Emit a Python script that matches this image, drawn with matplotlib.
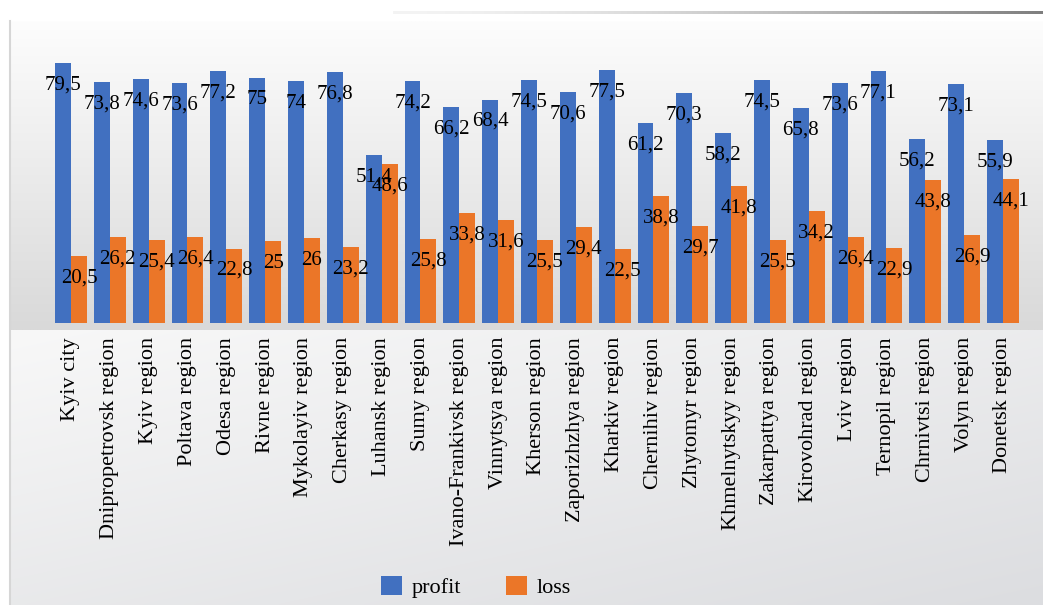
import numpy as np
import matplotlib
matplotlib.use("Agg")
import matplotlib.pyplot as plt
from matplotlib.colors import to_rgb
from matplotlib.patches import Patch
from matplotlib import font_manager

regions = [
    "Kyiv city", "Dnipropetrovsk region", "Kyiv region", "Poltava region",
    "Odesa region", "Rivne region", "Mykolayiv region", "Cherkasy region",
    "Luhansk region", "Sumy region", "Ivano-Frankivsk region", "Vinnytsya region",
    "Kherson region", "Zaporizhzhya region", "Kharkiv region", "Chernihiv region",
    "Zhytomyr region", "Khmelnytskyy region", "Zakarpattya region",
    "Kirovohrad region", "Lviv region", "Ternopil region", "Chrnivtsi region",
    "Volyn region", "Donetsk region",
]
profit = [79.5, 73.8, 74.6, 73.6, 77.2, 75, 74, 76.8, 51.4, 74.2, 66.2, 68.4,
          74.5, 70.6, 77.5, 61.2, 70.3, 58.2, 74.5, 65.8, 73.6, 77.1, 56.2,
          73.1, 55.9]
loss = [20.5, 26.2, 25.4, 26.4, 22.8, 25, 26, 23.2, 48.6, 25.8, 33.8, 31.6,
        25.5, 29.4, 22.5, 38.8, 29.7, 41.8, 25.5, 34.2, 26.4, 22.9, 43.8,
        26.9, 44.1]
series_names = ["profit", "loss"]

W, H = 1043, 605
BLUE = "#4170c0"
ORANGE = "#eb7628"

plt.rcParams["font.family"] = "serif"
plt.rcParams["font.serif"] = ["Liberation Serif", "Times New Roman", "DejaVu Serif"]

fig = plt.figure(figsize=(W / 100, H / 100), dpi=100)
fig.patch.set_facecolor("white")

# ---- background panels (pixel coordinates) ----
bg = fig.add_axes([0, 0, 1, 1])
bg.set_xlim(0, W)
bg.set_ylim(H, 0)
bg.axis("off")


def lerp(c0, c1, t):
    c0 = np.array(to_rgb(c0))
    c1 = np.array(to_rgb(c1))
    return c0[None, None, :] * (1 - t[..., None]) + c1[None, None, :] * t[..., None]


# plot area: vertical white-to-grey gradient
t = np.linspace(0, 1, 300)[:, None] * np.ones((1, 4))
bg.imshow(lerp("#fdfdfd", "#d9d9d9", t), extent=[10, W, 330, 21],
          aspect="auto", interpolation="bilinear", zorder=0)

# label area: diagonal light-grey gradient
yy, xx = np.mgrid[0:1:120j, 0:1:200j]
td = np.clip(0.45 * xx + 0.55 * yy, 0, 1)
bg.imshow(lerp("#f8f8f8", "#dcdde0", td), extent=[10, W, H, 330],
          aspect="auto", interpolation="bilinear", zorder=0)

# left frame edge
bg.plot([10, 10], [21, H], color="#d6d6d6", lw=1.5, zorder=1)

# top rule fading in from the left
tl = np.linspace(0, 1, 400)[None, :] ** 1.6 * np.ones((3, 1))
bg.imshow(lerp("#f4f4f4", "#7e7e7e", tl), extent=[393, W, 14.5, 11.5],
          aspect="auto", interpolation="bilinear", zorder=1)

# ---- bar chart ----
px_per_unit = 38.83
left_px = 71 - 0.5 * px_per_unit
right_px = 71 + 24.5 * px_per_unit
zero_px = 323
ymax = 90
scale = 3.267
ax = fig.add_axes([left_px / W, (H - zero_px) / H,
                   (right_px - left_px) / W, ymax * scale / H])
ax.set_facecolor("none")
ax.set_xlim(-0.5, len(regions) - 0.5)
ax.set_ylim(0, ymax)
for s in ax.spines.values():
    s.set_visible(False)
ax.set_yticks([])

x = np.arange(len(regions))
bw = 0.41
b1 = ax.bar(x - bw / 2, profit, bw, color=BLUE, zorder=2)
b2 = ax.bar(x + bw / 2, loss, bw, color=ORANGE, zorder=2)


def fmt(v):
    return f"{v:g}".replace(".", ",")


for bars, vals in ((b1, profit), (b2, loss)):
    for rect, v in zip(bars, vals):
        ax.annotate(fmt(v), (rect.get_x() + rect.get_width() / 2, v),
                    xytext=(0, -22), textcoords="offset pixels",
                    ha="center", va="center", fontsize=15,
                    color="black", zorder=3)

ax.set_xticks(x)
ax.set_xticklabels(regions, rotation=90, fontsize=16, va="top", ha="center")
ax.tick_params(axis="x", length=0, pad=10)

handles = [Patch(facecolor=BLUE), Patch(facecolor=ORANGE)]
fig.legend(handles, series_names, loc="center", ncol=2,
           bbox_to_anchor=(476 / W, 1 - 587 / H), frameon=False,
           prop={"size": 16}, handlelength=0.95,
           handleheight=0.95, handletextpad=0.45, columnspacing=2.0)

fig.savefig("out.png", dpi=100)
